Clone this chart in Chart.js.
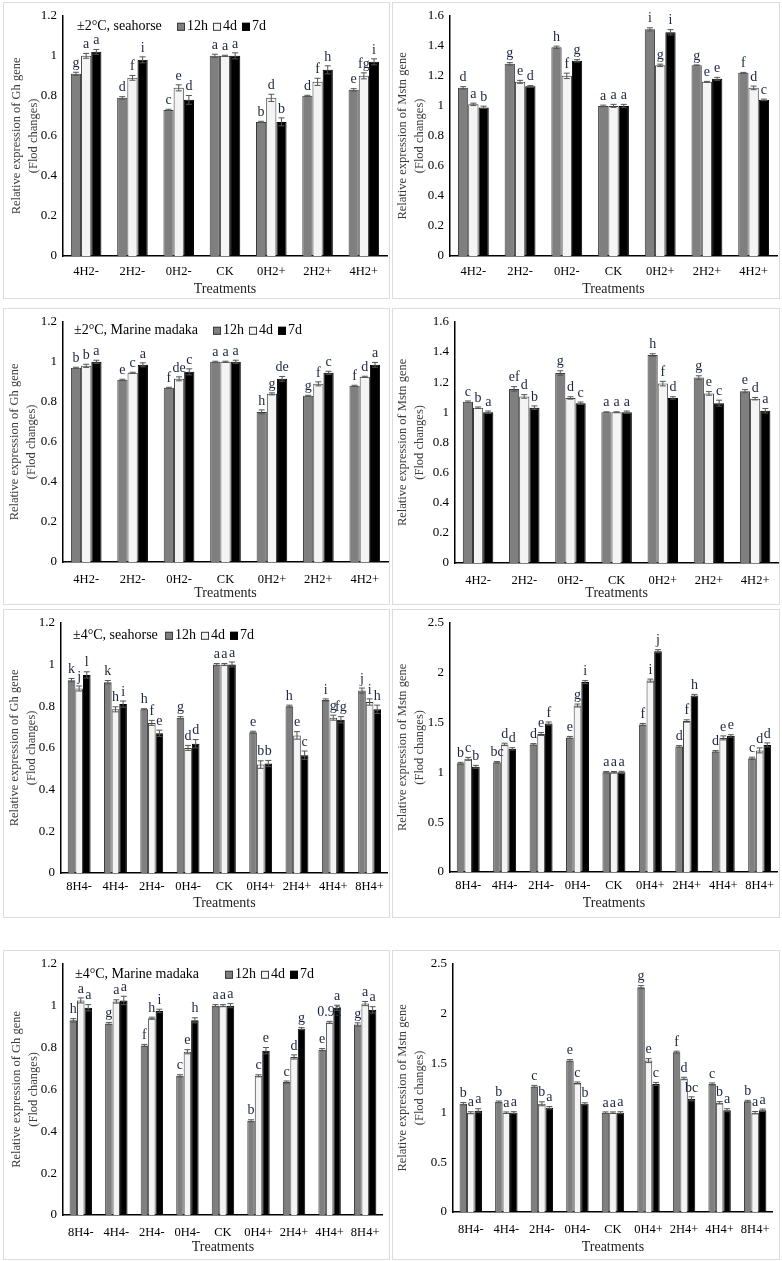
<!DOCTYPE html>
<html>
<head>
<meta charset="utf-8">
<script src="https://cdn.jsdelivr.net/npm/chart.js@4.4.0/dist/chart.umd.min.js"></script>
<style>
  body { margin: 0; background: #fff; width: 782px; height: 1261px; position: relative; overflow: hidden; }
  .panel { position: absolute; outline: 1px solid #dcdcdc; outline-offset: -1px; }
  .panel canvas { position: absolute; left: 0; top: 0; }
</style>
</head>
<body>
<script>
const SERIF = '"Liberation Serif", "Times New Roman", serif';

// categories
const cats2 = ['4H2-', '2H2-', '0H2-', 'CK', '0H2+', '2H2+', '4H2+'];
const cats4 = ['8H4-', '4H4-', '2H4-', '0H4-', 'CK', '0H4+', '2H4+', '4H4+', '8H4+'];

// y tick labels
const ghTicks = [0, 0.2, 0.4, 0.6, 0.8, 1, 1.2];
const mstnTicks2 = [0, 0.2, 0.4, 0.6, 0.8, 1, 1.2, 1.4, 1.6];
const mstnTicks4 = [0, 0.5, 1, 1.5, 2, 2.5];

// Gh, ±2°C, seahorse
const gh2Sea_12h = [0.91, 0.79, 0.73, 1.00, 0.67, 0.80, 0.83];
const gh2Sea_4d  = [1.00, 0.89, 0.84, 1.00, 0.79, 0.87, 0.90];
const gh2Sea_7d  = [1.02, 0.98, 0.78, 1.00, 0.67, 0.93, 0.97];
const gh2Sea_err12h = [0.008, 0.006, 0.003, 0.008, 0.003, 0.003, 0.006];
const gh2Sea_err4d  = [0.012, 0.012, 0.015, 0.003, 0.018, 0.018, 0.015];
const gh2Sea_err7d  = [0.012, 0.015, 0.022, 0.015, 0.020, 0.020, 0.015];
const gh2Sea_let12h = ['g', 'd', 'c', 'a', 'b', 'd', 'e'];
const gh2Sea_let4d  = ['a', 'f', 'e', 'a', 'd', 'f', 'fg'];
const gh2Sea_let7d  = ['a', 'i', 'd', 'a', 'b', 'h', 'i'];

// Mstn, ±2°C, seahorse
const mstn2Sea_12h = [1.12, 1.28, 1.39, 1.00, 1.51, 1.27, 1.22];
const mstn2Sea_4d  = [1.01, 1.16, 1.20, 1.00, 1.27, 1.16, 1.12];
const mstn2Sea_7d  = [0.99, 1.13, 1.30, 1.00, 1.49, 1.18, 1.04];
const mstn2Sea_err12h = [0.008, 0.008, 0.008, 0.005, 0.010, 0.003, 0.003];
const mstn2Sea_err4d  = [0.008, 0.010, 0.018, 0.010, 0.008, 0.003, 0.012];
const mstn2Sea_err7d  = [0.008, 0.005, 0.008, 0.010, 0.018, 0.010, 0.005];
const mstn2Sea_let12h = ['d', 'g', 'h', 'a', 'i', 'g', 'f'];
const mstn2Sea_let4d  = ['a', 'e', 'f', 'a', 'g', 'e', 'd'];
const mstn2Sea_let7d  = ['b', 'd', 'g', 'a', 'i', 'e', 'c'];

// Gh, ±2°C, Marine madaka
const gh2Med_12h = [0.97, 0.91, 0.87, 1.00, 0.75, 0.83, 0.88];
const gh2Med_4d  = [0.98, 0.945, 0.915, 1.00, 0.84, 0.89, 0.925];
const gh2Med_7d  = [1.00, 0.985, 0.95, 1.00, 0.915, 0.945, 0.985];
const gh2Med_err12h = [0.003, 0.003, 0.003, 0.003, 0.010, 0.003, 0.003];
const gh2Med_err4d  = [0.008, 0.003, 0.010, 0.003, 0.005, 0.010, 0.003];
const gh2Med_err7d  = [0.008, 0.010, 0.015, 0.008, 0.012, 0.008, 0.012];
const gh2Med_let12h = ['b', 'e', 'f', 'a', 'h', 'g', 'f'];
const gh2Med_let4d  = ['b', 'c', 'de', 'a', 'g', 'f', 'd'];
const gh2Med_let7d  = ['a', 'a', 'c', 'a', 'de', 'c', 'a'];

// Mstn, ±2°C, Marine madaka
const mstn2Med_12h = [1.07, 1.155, 1.26, 1.00, 1.38, 1.23, 1.14];
const mstn2Med_4d  = [1.03, 1.105, 1.095, 1.00, 1.19, 1.125, 1.09];
const mstn2Med_7d  = [1.00, 1.03, 1.06, 1.00, 1.095, 1.06, 1.01];
const mstn2Med_err12h = [0.005, 0.015, 0.015, 0.003, 0.008, 0.012, 0.010];
const mstn2Med_err4d  = [0.005, 0.012, 0.008, 0.003, 0.015, 0.012, 0.008];
const mstn2Med_err7d  = [0.008, 0.012, 0.008, 0.008, 0.008, 0.020, 0.015];
const mstn2Med_let12h = ['c', 'ef', 'g', 'a', 'h', 'g', 'e'];
const mstn2Med_let4d  = ['b', 'd', 'd', 'a', 'f', 'e', 'd'];
const mstn2Med_let7d  = ['a', 'b', 'c', 'a', 'd', 'c', 'a'];

// Gh, ±4°C, seahorse
const gh4Sea_12h = [0.925, 0.915, 0.785, 0.745, 1.00, 0.675, 0.80, 0.83, 0.875];
const gh4Sea_4d  = [0.885, 0.785, 0.72, 0.60, 1.00, 0.52, 0.66, 0.745, 0.82];
const gh4Sea_7d  = [0.95, 0.81, 0.67, 0.62, 1.00, 0.525, 0.565, 0.735, 0.785];
const gh4Sea_err12h = [0.008, 0.008, 0.003, 0.005, 0.005, 0.005, 0.005, 0.005, 0.012];
const gh4Sea_err4d  = [0.012, 0.012, 0.012, 0.012, 0.005, 0.018, 0.018, 0.012, 0.015];
const gh4Sea_err7d  = [0.015, 0.015, 0.015, 0.020, 0.012, 0.015, 0.020, 0.015, 0.020];
const gh4Sea_let12h = ['k', 'k', 'h', 'g', 'a', 'e', 'h', 'i', 'j'];
const gh4Sea_let4d  = ['j', 'h', 'f', 'd', 'a', 'b', 'e', 'g', 'i'];
const gh4Sea_let7d  = ['l', 'i', 'e', 'd', 'a', 'b', 'c', 'fg', 'h'];

// Mstn, ±4°C, seahorse
const mstn4Sea_12h = [1.09, 1.10, 1.28, 1.35, 1.00, 1.48, 1.26, 1.21, 1.14];
const mstn4Sea_4d  = [1.135, 1.28, 1.385, 1.67, 1.00, 1.92, 1.515, 1.345, 1.22];
const mstn4Sea_7d  = [1.055, 1.235, 1.49, 1.905, 1.00, 2.215, 1.77, 1.365, 1.275];
const mstn4Sea_err12h = [0.010, 0.008, 0.008, 0.010, 0.008, 0.010, 0.008, 0.008, 0.012];
const mstn4Sea_err4d  = [0.015, 0.012, 0.015, 0.015, 0.008, 0.015, 0.012, 0.020, 0.025];
const mstn4Sea_err7d  = [0.015, 0.012, 0.015, 0.015, 0.010, 0.015, 0.012, 0.012, 0.020];
const mstn4Sea_let12h = ['b', 'bc', 'd', 'e', 'a', 'f', 'd', 'd', 'c'];
const mstn4Sea_let4d  = ['c', 'd', 'e', 'g', 'a', 'i', 'f', 'e', 'd'];
const mstn4Sea_let7d  = ['b', 'd', 'f', 'i', 'a', 'j', 'h', 'e', 'd'];

// Gh, ±4°C, Marine madaka
const gh4Med_12h = [0.93, 0.915, 0.81, 0.665, 1.00, 0.45, 0.635, 0.79, 0.91];
const gh4Med_4d  = [1.025, 1.02, 0.94, 0.78, 1.00, 0.665, 0.755, 0.92, 1.01];
const gh4Med_7d  = [0.99, 1.025, 0.975, 0.93, 1.00, 0.785, 0.89, 0.99, 0.98];
const gh4Med_err12h = [0.008, 0.005, 0.005, 0.005, 0.005, 0.005, 0.005, 0.005, 0.008];
const gh4Med_err4d  = [0.012, 0.008, 0.005, 0.010, 0.005, 0.005, 0.010, 0.005, 0.010];
const gh4Med_err7d  = [0.015, 0.020, 0.008, 0.012, 0.010, 0.015, 0.005, 0.012, 0.015];
const gh4Med_let12h = ['h', 'g', 'f', 'c', 'a', 'b', 'c', 'e', 'g'];
const gh4Med_let4d  = ['a', 'a', 'h', 'e', 'a', 'c', 'd', '0.92', 'a'];
const gh4Med_let7d  = ['a', 'a', 'i', 'h', 'a', 'e', 'g', 'a', 'a'];

// Mstn, ±4°C, Marine madaka
const mstn4Med_12h = [1.09, 1.11, 1.265, 1.525, 1.00, 2.265, 1.61, 1.29, 1.115];
const mstn4Med_4d  = [1.00, 1.00, 1.09, 1.30, 1.00, 1.525, 1.345, 1.10, 1.00];
const mstn4Med_7d  = [1.02, 1.00, 1.05, 1.09, 1.00, 1.29, 1.14, 1.025, 1.025];
const mstn4Med_err12h = [0.012, 0.008, 0.010, 0.010, 0.008, 0.015, 0.010, 0.010, 0.010];
const mstn4Med_err4d  = [0.010, 0.008, 0.020, 0.010, 0.008, 0.020, 0.012, 0.012, 0.012];
const mstn4Med_err7d  = [0.020, 0.010, 0.012, 0.010, 0.010, 0.015, 0.020, 0.015, 0.012];
const mstn4Med_let12h = ['b', 'b', 'c', 'e', 'a', 'g', 'f', 'c', 'b'];
const mstn4Med_let4d  = ['a', 'a', 'b', 'c', 'a', 'e', 'd', 'b', 'a'];
const mstn4Med_let7d  = ['a', 'a', 'a', 'b', 'a', 'c', 'bc', 'a', 'a'];

// error bars, significance letters and the inline legend
const panelDeco = {
  id: 'panelDeco',
  afterDatasetsDraw(chart) {
    const ctx = chart.ctx;
    const ys = chart.scales.y;
    chart.data.datasets.forEach((ds, i) => {
      chart.getDatasetMeta(i).data.forEach((bar, j) => {
        const v = ds.data[j], e = ds.err[j];
        const top = ys.getPixelForValue(v + e);
        const bot = ys.getPixelForValue(v - e);
        ctx.save();
        ctx.strokeStyle = '#555';
        ctx.lineWidth = 1;
        ctx.beginPath();
        ctx.moveTo(bar.x, top); ctx.lineTo(bar.x, bot);
        ctx.moveTo(bar.x - 3, top); ctx.lineTo(bar.x + 3, top);
        ctx.moveTo(bar.x - 3, bot); ctx.lineTo(bar.x + 3, bot);
        ctx.stroke();
        ctx.fillStyle = '#1b2540';
        ctx.font = '14px ' + SERIF;
        ctx.textAlign = 'center';
        ctx.textBaseline = 'bottom';
        ctx.fillText(ds.tags[j], bar.x, top - 2);
        ctx.restore();
      });
    });
  },
  afterDraw(chart, args, opts) {
    if (!opts.title) return;
    const ctx = chart.ctx;
    const a = chart.chartArea;
    const y = a.top + opts.dy;
    ctx.save();
    ctx.font = '14px ' + SERIF;
    ctx.textBaseline = 'middle';
    ctx.textAlign = 'left';
    ctx.fillStyle = '#000';
    ctx.fillText(opts.title, a.left + opts.tx, y);
    let x = a.left + opts.sx;
    chart.data.datasets.forEach(ds => {
      ctx.fillStyle = ds.backgroundColor;
      ctx.fillRect(x, y - 4, 8, 8);
      ctx.strokeStyle = ds.borderColor;
      ctx.lineWidth = 1;
      ctx.strokeRect(x + 0.5, y - 3.5, 7, 7);
      ctx.fillStyle = '#000';
      ctx.fillText(ds.label, x + 10, y);
      x += 10 + ctx.measureText(ds.label).width + 5;
    });
    ctx.restore();
  }
};

function makePanel(p) {
  const [bx, by, bw, bh] = p.box;
  const [l, r, t, b] = p.area;
  const frame = document.createElement('div');
  frame.className = 'panel';
  frame.style.cssText = `left:${bx}px;top:${by}px;width:${bw}px;height:${bh}px`;
  const canvas = document.createElement('canvas');
  canvas.width = bw;
  canvas.height = bh;
  canvas.style.width = bw + 'px';
  canvas.style.height = bh + 'px';
  frame.appendChild(canvas);
  document.body.appendChild(frame);

  const mk = (label, data, err, tags, bg, bd) => ({
    label, data, err, tags,
    backgroundColor: bg, borderColor: bd, borderWidth: 1,
    barPercentage: 1, categoryPercentage: p.cp
  });

  new Chart(canvas, {
    type: 'bar',
    data: {
      labels: p.cats,
      datasets: [
        mk('12h', p.s[0], p.e[0], p.l[0], '#7f7f7f', '#3a3a3a'),
        mk('4d', p.s[1], p.e[1], p.l[1], '#f4f4f4', '#3a3a3a'),
        mk('7d', p.s[2], p.e[2], p.l[2], '#000000', '#000000')
      ]
    },
    options: {
      responsive: false,
      animation: false,
      layout: { padding: { left: 0, right: bx + bw - r, top: t - by, bottom: 0 } },
      plugins: {
        legend: { display: false },
        tooltip: { enabled: false },
        panelDeco: p.legend || {}
      },
      scales: {
        x: {
          grid: { display: false, drawTicks: false },
          border: { display: true, color: '#000', width: 1.5 },
          ticks: { color: '#000', font: { family: SERIF, size: 12.5 }, padding: p.labelPad, maxRotation: 0, autoSkip: false },
          title: { display: true, text: 'Treatments', color: '#222', font: { family: SERIF, size: 14 }, padding: { top: 0, bottom: p.titlePad } },
          afterFit: s => { s.height = by + bh - b; }
        },
        y: {
          min: 0,
          max: p.ticks[p.ticks.length - 1],
          grid: { display: false, drawTicks: false },
          border: { display: true, color: '#000', width: 1.5 },
          afterBuildTicks: s => { s.ticks = p.ticks.map(v => ({ value: v })); },
          ticks: { color: '#000', font: { family: SERIF, size: 13 }, padding: 6, callback: v => String(+v.toFixed(2)) },
          title: {
            display: true,
            text: ['Relative expression of ' + p.gene + ' gene', '(Flod changes)'],
            color: '#3c3c3c',
            font: { family: SERIF, size: 12.5, lineHeight: 1.35 },
            padding: { top: p.ytPad, bottom: 0 }
          },
          afterFit: s => { s.width = l - bx; }
        }
      }
    },
    plugins: [panelDeco]
  });
}

const panels = [
  { box: [3, 2, 387, 297], area: [63, 387, 13, 256], cats: cats2, ticks: ghTicks, gene: 'Gh', cp: 0.66,
    s: [gh2Sea_12h, gh2Sea_4d, gh2Sea_7d], e: [gh2Sea_err12h, gh2Sea_err4d, gh2Sea_err7d], l: [gh2Sea_let12h, gh2Sea_let4d, gh2Sea_let7d],
    labelPad: 8.5, titlePad: 1.6, ytPad: 5, legend: { title: '±2°C, seahorse', tx: 14, sx: 114, dy: 11 } },
  { box: [392, 2, 388, 297], area: [450, 777, 13, 256], cats: cats2, ticks: mstnTicks2, gene: 'Mstn', cp: 0.66,
    s: [mstn2Sea_12h, mstn2Sea_4d, mstn2Sea_7d], e: [mstn2Sea_err12h, mstn2Sea_err4d, mstn2Sea_err7d], l: [mstn2Sea_let12h, mstn2Sea_let4d, mstn2Sea_let7d],
    labelPad: 8.5, titlePad: 1.6, ytPad: 2.6 },
  { box: [3, 308, 387, 297], area: [63, 388, 319, 562], cats: cats2, ticks: ghTicks, gene: 'Gh', cp: 0.66,
    s: [gh2Med_12h, gh2Med_4d, gh2Med_7d], e: [gh2Med_err12h, gh2Med_err4d, gh2Med_err7d], l: [gh2Med_let12h, gh2Med_let4d, gh2Med_let7d],
    labelPad: 10.5, titlePad: 3.6, ytPad: 3.6, legend: { title: '±2°C, Marine madaka', tx: 11, sx: 150, dy: 9 } },
  { box: [392, 308, 388, 297], area: [455, 779, 319, 563], cats: cats2, ticks: mstnTicks2, gene: 'Mstn', cp: 0.66,
    s: [mstn2Med_12h, mstn2Med_4d, mstn2Med_7d], e: [mstn2Med_err12h, mstn2Med_err4d, mstn2Med_err7d], l: [mstn2Med_let12h, mstn2Med_let4d, mstn2Med_let7d],
    labelPad: 10.5, titlePad: 3.6, ytPad: 2.6 },
  { box: [3, 609, 387, 309], area: [61, 388, 618, 873], cats: cats4, ticks: ghTicks, gene: 'Gh', cp: 0.63,
    s: [gh4Sea_12h, gh4Sea_4d, gh4Sea_7d], e: [gh4Sea_err12h, gh4Sea_err4d, gh4Sea_err7d], l: [gh4Sea_let12h, gh4Sea_let4d, gh4Sea_let7d],
    labelPad: 6, titlePad: 6.6, ytPad: 3.6, legend: { title: '±4°C, seahorse', tx: 12, sx: 104, dy: 13 } },
  { box: [392, 609, 388, 309], area: [450, 779, 618, 872], cats: cats4, ticks: mstnTicks4, gene: 'Mstn', cp: 0.63,
    s: [mstn4Sea_12h, mstn4Sea_4d, mstn4Sea_7d], e: [mstn4Sea_err12h, mstn4Sea_err4d, mstn4Sea_err7d], l: [mstn4Sea_let12h, mstn4Sea_let4d, mstn4Sea_let7d],
    labelPad: 6, titlePad: 6.6, ytPad: 2.6 },
  { box: [3, 950, 387, 310], area: [63, 389, 962, 1215], cats: cats4, ticks: ghTicks, gene: 'Gh', cp: 0.63,
    s: [gh4Med_12h, gh4Med_4d, gh4Med_7d], e: [gh4Med_err12h, gh4Med_err4d, gh4Med_err7d], l: [gh4Med_let12h, gh4Med_let4d, gh4Med_let7d],
    labelPad: 10.5, titlePad: 4.6, ytPad: 5, legend: { title: '±4°C, Marine madaka', tx: 12, sx: 162, dy: 11 } },
  { box: [392, 950, 388, 310], area: [453, 779, 963, 1212], cats: cats4, ticks: mstnTicks4, gene: 'Mstn', cp: 0.63,
    s: [mstn4Med_12h, mstn4Med_4d, mstn4Med_7d], e: [mstn4Med_err12h, mstn4Med_err4d, mstn4Med_err7d], l: [mstn4Med_let12h, mstn4Med_let4d, mstn4Med_let7d],
    labelPad: 10.5, titlePad: 4.6, ytPad: 2.6 }
];

panels.forEach(makePanel);
</script>
</body>
</html>
